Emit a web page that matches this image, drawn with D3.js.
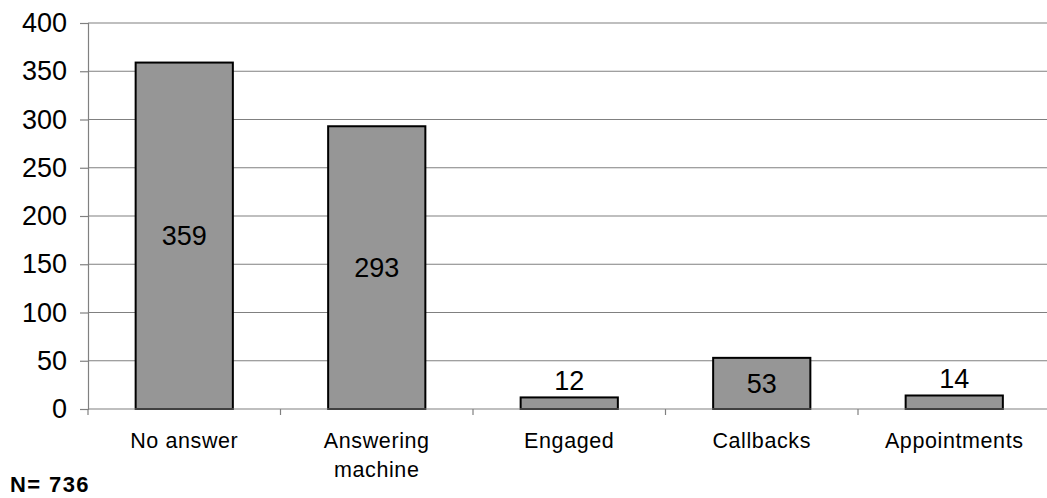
<!DOCTYPE html>
<html>
<head>
<meta charset="utf-8">
<script src="https://cdn.jsdelivr.net/npm/d3@7"></script>
<style>
  html, body { margin: 0; padding: 0; background: #fff; }
  svg { display: block; font-family: Arial, "Liberation Sans", sans-serif; }
</style>
</head>
<body>
<svg id="chart" width="1047" height="498"></svg>
<script>
// Call outcomes
const categories = ["No answer", "Answering machine", "Engaged", "Callbacks", "Appointments"];
const counts = [359, 293, 12, 53, 14];
const yTicks = [0, 50, 100, 150, 200, 250, 300, 350, 400];
const footnote = "N= 736";

const svg = d3.select("#chart");
const plot = { left: 88, right: 1050.5, top: 23, bottom: 409 };

const x = d3.scaleBand().domain(categories).range([plot.left, plot.right]).padding(0);
const y = d3.scaleLinear().domain([0, 400]).range([plot.bottom, plot.top]);
const barW = x.bandwidth() * 0.505;

// horizontal gridlines
svg.append("g")
  .selectAll("line")
  .data(yTicks.filter(d => d > 0))
  .join("line")
  .attr("x1", plot.left).attr("x2", plot.right)
  .attr("y1", d => y(d)).attr("y2", d => y(d))
  .attr("stroke", "#808080").attr("stroke-width", 1.2);

// y axis
const yAxis = svg.append("g")
  .attr("transform", `translate(${plot.left},0)`)
  .call(d3.axisLeft(y).tickValues(yTicks).tickSize(8).tickPadding(13).tickFormat(d3.format("d")));
yAxis.select(".domain").attr("stroke", "#808080").attr("stroke-width", 1.2);
yAxis.selectAll(".tick line").attr("stroke", "#808080").attr("stroke-width", 1.2);
yAxis.selectAll(".tick text")
  .attr("font-size", 27).attr("fill", "#000")
  .attr("font-family", "Arial, 'Liberation Sans', sans-serif");

// bars
svg.append("g")
  .selectAll("rect")
  .data(categories)
  .join("rect")
  .attr("x", (d) => x(d) + (x.bandwidth() - barW) / 2)
  .attr("width", barW)
  .attr("y", (d, i) => y(counts[i]))
  .attr("height", (d, i) => y(0) - y(counts[i]))
  .attr("fill", "#969696")
  .attr("stroke", "#000")
  .attr("stroke-width", 2);

// x axis with category ticks at band edges
svg.append("line")
  .attr("x1", plot.left).attr("x2", plot.right)
  .attr("y1", y(0)).attr("y2", y(0))
  .attr("stroke", "#808080").attr("stroke-width", 1.2);
svg.append("g")
  .selectAll("line")
  .data(categories.concat(["__end"]))
  .join("line")
  .attr("x1", (d, i) => plot.left + i * x.step())
  .attr("x2", (d, i) => plot.left + i * x.step())
  .attr("y1", y(0)).attr("y2", y(0) + 6)
  .attr("stroke", "#808080").attr("stroke-width", 1.2);

// category labels, wrapped to fit
const catText = svg.append("g")
  .selectAll("text")
  .data(categories)
  .join("text")
  .attr("x", d => x(d) + x.bandwidth() / 2)
  .attr("y", 448)
  .attr("text-anchor", "middle")
  .attr("font-size", 21.5)
  .attr("letter-spacing", 0.6)
  .attr("fill", "#000");
catText.each(function (d) {
  const t = d3.select(this);
  const words = d.split(" ");
  const lines = [];
  let cur = "";
  words.forEach(w => {
    const trial = cur ? cur + " " + w : w;
    if (trial.length > 12 && cur) { lines.push(cur); cur = w; } else { cur = trial; }
  });
  lines.push(cur);
  lines.forEach((ln, k) => {
    t.append("tspan")
      .attr("x", x(d) + x.bandwidth() / 2)
      .attr("dy", k === 0 ? 0 : 29)
      .text(ln);
  });
});

// value labels: centred inside tall bars, above short ones
svg.append("g")
  .selectAll("text")
  .data(categories)
  .join("text")
  .attr("x", d => x(d) + x.bandwidth() / 2)
  .attr("y", (d, i) => {
    const top = y(counts[i]);
    const h = y(0) - top;
    return h > 40 ? top + h / 2 : top - 7;
  })
  .attr("dy", (d, i) => (y(0) - y(counts[i]) > 40 ? "0.35em" : 0))
  .attr("text-anchor", "middle")
  .attr("font-size", 27)
  .attr("fill", "#000")
  .text((d, i) => counts[i]);

// sample size note
svg.append("text")
  .attr("x", 10).attr("y", 492)
  .attr("font-size", 22)
  .attr("font-weight", "bold")
  .attr("letter-spacing", 1.4)
  .attr("fill", "#000")
  .text(footnote);
</script>
</body>
</html>
